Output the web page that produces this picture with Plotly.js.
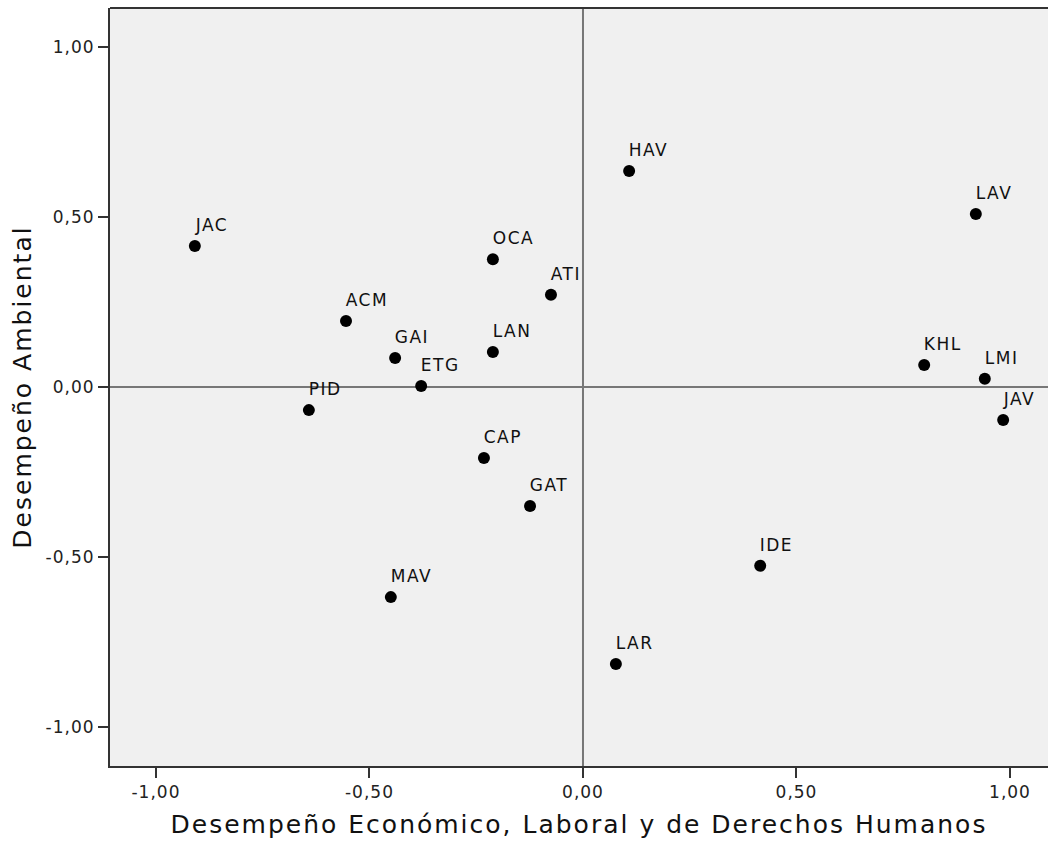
<!DOCTYPE html>
<html>
<head>
<meta charset="utf-8">
<script src="https://cdn.plot.ly/plotly-3.0.1.min.js"></script>
<style>
html,body{margin:0;padding:0;background:#fff;}
#chart{width:1048px;height:842px;}
#chart .xtick text, #chart .ytick text{letter-spacing:1px;}
#chart text.xtitle, #chart text.ytitle{letter-spacing:2px;}
#chart text.annotation-text{letter-spacing:1.5px;}
</style>
</head>
<body>
<div id="chart"></div>
<script>
const labels = ["JAC","HAV","LAV","OCA","ATI","ACM","GAI","LAN","ETG","PID","KHL","LMI","JAV","CAP","GAT","IDE","MAV","LAR"];
const xVals = [-0.909, 0.108, 0.920, -0.211, -0.075, -0.555, -0.440, -0.211, -0.379, -0.642, 0.799, 0.941, 0.984, -0.232, -0.124, 0.415, -0.450, 0.077];
const yVals = [0.415, 0.635, 0.509, 0.376, 0.271, 0.194, 0.085, 0.103, 0.003, -0.068, 0.065, 0.024, -0.097, -0.209, -0.350, -0.526, -0.618, -0.815];
const tickVals = [-1, -0.5, 0, 0.5, 1];
const tickText = ["-1,00", "-0,50", "0,00", "0,50", "1,00"];
const xTitle = "Desempeño Económico, Laboral y de Derechos Humanos";
const yTitle = "Desempeño Ambiental";

const font = "DejaVu Sans, Verdana, sans-serif";

const trace = {
  x: xVals, y: yVals, mode: "markers", type: "scatter",
  marker: {color: "#000000", size: 12},
  hoverinfo: "text", text: labels, cliponaxis: false
};

const annotations = labels.map((t, i) => ({
  x: xVals[i], y: yVals[i], xref: "x", yref: "y", text: t, showarrow: false,
  xanchor: "left", yanchor: "bottom", xshift: 0, yshift: 9,
  font: {family: font, size: 17, color: "#111"}
}));

const layout = {
  width: 1048, height: 842,
  margin: {l: 110, r: 0, t: 8, b: 76},
  paper_bgcolor: "#ffffff", plot_bgcolor: "#f0f0f0",
  showlegend: false,
  font: {family: font, color: "#222"},
  xaxis: {
    range: [-1.1077, 1.089], tickvals: tickVals, ticktext: tickText,
    ticks: "outside", ticklen: 10, tickwidth: 2, tickcolor: "#333",
    showgrid: false, zeroline: false, showline: true, linecolor: "#333", linewidth: 2, mirror: false,
    tickfont: {family: font, size: 17, color: "#222"},
    title: {text: xTitle, font: {family: font, size: 25, color: "#111"}, standoff: 14}
  },
  yaxis: {
    range: [-1.1147, 1.1147], tickvals: tickVals, ticktext: tickText,
    ticks: "outside", ticklen: 10, tickwidth: 2, tickcolor: "#333",
    showgrid: false, zeroline: false, showline: true, linecolor: "#333", linewidth: 2, mirror: false,
    tickfont: {family: font, size: 17, color: "#222"},
    title: {text: yTitle, font: {family: font, size: 25, color: "#111"}, standoff: 12}
  },
  shapes: [
    {type: "line", xref: "paper", yref: "paper", x0: 0, x1: 1, y0: 1, y1: 1, line: {color: "#333", width: 2}},
    {type: "line", xref: "x", yref: "paper", x0: 0, x1: 0, y0: 0, y1: 1, line: {color: "#777", width: 2}, layer: "below"},
    {type: "line", xref: "paper", yref: "y", x0: 0, x1: 1, y0: 0, y1: 0, line: {color: "#777", width: 2}, layer: "below"}
  ],
  annotations: annotations
};

Plotly.newPlot("chart", [trace], layout, {displayModeBar: false, staticPlot: true});
</script>
</body>
</html>
